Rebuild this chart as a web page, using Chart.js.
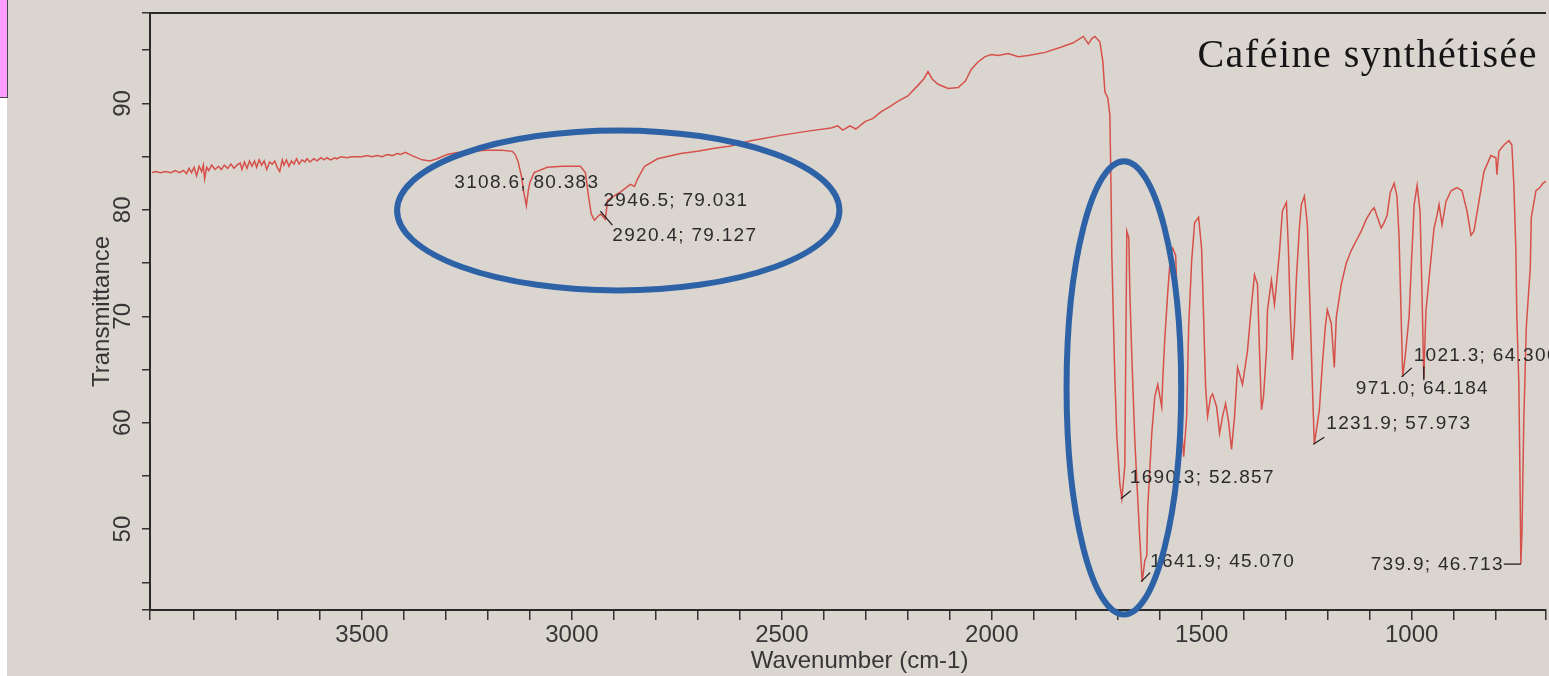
<!DOCTYPE html>
<html lang="fr">
<head>
<meta charset="utf-8">
<title>Caféine synthétisée - spectre IR</title>
<script src="https://cdn.jsdelivr.net/npm/chart.js@4.4.1/dist/chart.umd.min.js"></script>
<style>
  html, body { margin: 0; padding: 0; background: #dbd5d0; overflow: hidden; }
  #wrap { position: relative; width: 1549px; height: 676px; }
  #irChart { position: absolute; left: 0; top: 0; }
  .strip { position: absolute; left: 0; top: 0; width: 7px; height: 676px; background: #ffffff; }
  .tag { position: absolute; left: 0; top: 0; width: 7px; height: 97px; background: #ff9cff; border-right: 1px solid #444; border-bottom: 1px solid #444; }
</style>
</head>
<body>
<div id="wrap">
  <canvas id="irChart" width="1549" height="676"></canvas>
  <div class="strip"></div>
  <div class="tag"></div>
</div>
<script>
const wavenumbers = [
  4000, 3992, 3980, 3968, 3955, 3945, 3935, 3925, 3918, 3912,
  3906, 3900, 3894, 3888, 3882, 3878, 3875, 3870, 3865, 3858,
  3850, 3842, 3835, 3828, 3820, 3812, 3805, 3798, 3790, 3786,
  3780, 3774, 3768, 3762, 3756, 3751, 3745, 3739, 3733, 3727,
  3720, 3714, 3708, 3702, 3696, 3690, 3686, 3680, 3674, 3668,
  3662, 3656, 3650, 3643, 3636, 3631, 3624, 3615, 3607, 3598,
  3590, 3584, 3575, 3565, 3560, 3550, 3536, 3525, 3512, 3500,
  3488, 3476, 3464, 3452, 3440, 3428, 3416, 3408, 3397,
  3381, 3357, 3338, 3321, 3297, 3273, 3238, 3202, 3166, 3142, 3135, 3128,
  3120, 3114, 3108.6, 3104, 3100, 3090, 3059, 3023, 2980, 2968, 2961, 2954, 2946.5, 2938, 2931, 2920.4,
  2915, 2900, 2884, 2861, 2851, 2844, 2827, 2796, 2741, 2701, 2660, 2622, 2574, 2503, 2438, 2383,
  2367, 2355, 2338, 2324, 2302, 2283, 2264, 2243, 2224, 2200, 2176, 2162, 2152, 2142, 2128, 2104,
  2080, 2063, 2049, 2033, 2016, 2001, 1985, 1961, 1937, 1913, 1873, 1834, 1806, 1782, 1770, 1761.6,
  1754.5, 1742.6, 1735.4, 1730.7, 1723.6, 1718.8, 1716.4, 1714.1, 1711.7, 1707.0, 1702.2, 1695.1, 1690.3, 1683.2, 1680.8, 1678.4,
  1673.7, 1671.3, 1666.5, 1659.4, 1652.3, 1647.5, 1641.9, 1635.7, 1630.9, 1628.5, 1619.0, 1611.9, 1604.8, 1595.3, 1592.9, 1588.1,
  1581.0, 1573.9, 1569.1, 1562.0, 1557.2, 1550.1, 1543.0, 1535.9, 1531.1, 1524.0, 1516.9, 1507.4, 1500.3, 1495.5, 1490.8, 1486.0,
  1478.9, 1474.1, 1464.6, 1457.5, 1450.4, 1443.2, 1436.1, 1429.0, 1421.8, 1414.7, 1402.8, 1390.9, 1381.4, 1374.3, 1367.2, 1362.4,
  1357.7, 1352.9, 1345.8, 1343.4, 1333.9, 1326.8, 1322.0, 1314.9, 1307.8, 1298.3, 1293.6, 1288.8, 1284.1, 1279.3, 1274.5, 1267.4,
  1262.7, 1255.5, 1248.4, 1241.3, 1236.5, 1231.9, 1219.8, 1212.7, 1205.6, 1200.9, 1191.4, 1184.2, 1179.5, 1167.6, 1155.7, 1143.8,
  1132.0, 1120.1, 1108.2, 1096.3, 1089.2, 1079.7, 1072.6, 1065.5, 1058.4, 1051.2, 1041.7, 1035, 1030, 1026, 1021.3, 1016,
  1011, 1006, 1001, 994, 987, 980, 975.5, 971.0, 966, 953.7, 946.6, 939.5, 934.7, 927.6, 918.1, 906.2,
  892.0, 880.1, 868.2, 858.7, 851.6, 839.7, 827.8, 811.2, 799.3, 796.9, 792.2, 780.3, 768.4, 761.3, 756.5, 751.8,
  749.4, 744.6, 742, 739.9, 737, 733, 726.9, 717.4, 715.0, 703.9, 694.4, 687.3, 680
];
const transmittance = [
  83.5, 83.6, 83.5, 83.6, 83.5, 83.7, 83.5, 83.7, 83.4, 83.9,
  83.5, 84.0, 83.2, 84.1, 83.6, 84.2, 82.9, 84.0, 83.7, 84.2,
  83.8, 84.1, 83.8, 84.2, 83.9, 84.3, 83.9, 84.2, 84.4, 83.8,
  84.5, 83.9, 84.6, 84.1, 84.6, 84.0, 84.7, 84.2, 84.6, 83.8,
  84.5, 84.3, 84.6, 84.0, 83.6, 84.7, 84.2, 84.7, 84.1, 84.6,
  84.3, 84.8, 84.3, 84.7, 84.5, 84.8, 84.5, 84.8, 84.6, 84.9,
  84.7, 84.9, 84.7, 84.9, 84.8, 85.0, 84.9, 85.0, 85.0, 85.0,
  85.1, 85.0, 85.1, 85.0, 85.2, 85.1, 85.3, 85.2, 85.4,
  85.1, 84.7, 84.6, 84.8, 85.2, 85.4, 85.5, 85.6, 85.6, 85.5, 85.2, 84.5,
  83.1, 81.5, 80.383, 81.8, 82.6, 83.5, 84.0, 84.1, 84.1, 83.5, 81.4, 79.6, 79.031, 79.4, 79.6, 79.127,
  80.9, 81.3, 81.7, 82.4, 82.2, 82.9, 84.1, 84.8, 85.3, 85.5, 85.8, 86.0, 86.5, 87.0, 87.4, 87.7,
  87.9, 87.5, 87.9, 87.6, 88.3, 88.6, 89.2, 89.7, 90.2, 90.7, 91.7, 92.3, 93.0, 92.3, 91.8, 91.4,
  91.5, 92.1, 93.2, 93.9, 94.4, 94.6, 94.5, 94.7, 94.4, 94.5, 94.8, 95.3, 95.7, 96.3, 95.6, 96.1,
  96.3, 95.8, 93.9, 91.1, 90.5, 88.9, 83.0, 75.8, 71.8, 64.3, 58.7, 54.3, 52.857, 55.9, 67.1, 78.0,
  77.4, 72.4, 66.2, 58.4, 52.8, 49.1, 45.070, 47.0, 47.5, 52.1, 59.0, 62.4, 63.6, 61.5, 64.0, 67.8,
  72.2, 76.0, 76.4, 75.7, 69.9, 60.6, 56.8, 60.6, 69.0, 75.2, 78.8, 79.3, 76.4, 69.9, 63.4, 60.6,
  62.4, 62.7, 61.5, 59.0, 60.6, 61.8, 60.1, 57.5, 60.6, 65.2, 63.6, 66.8, 71.1, 73.9, 73.0, 66.8,
  61.2, 62.4, 66.8, 70.6, 73.4, 71.1, 73.0, 76.0, 79.9, 80.7, 76.4, 69.9, 65.9, 69.0, 73.6, 78.3,
  80.5, 81.3, 78.6, 69.9, 63.6, 57.973, 61.2, 65.5, 69.0, 70.6, 69.3, 65.2, 69.9, 73.0, 75.0, 76.2,
  77.1, 78.0, 79.1, 79.9, 80.2, 79.1, 78.3, 78.8, 79.5, 81.6, 82.5, 81.3, 77.5, 71.5, 64.306, 66.0,
  68.0, 70.0, 74.6, 80.5, 82.3, 79.9, 72.4, 64.184, 70.5, 75.5, 78.3, 79.5, 80.5, 78.6, 80.8, 81.8,
  82.1, 81.8, 79.9, 77.6, 78.0, 80.8, 83.6, 85.1, 84.9, 83.3, 85.5, 86.1, 86.5, 86.1, 82.3, 76.2,
  69.9, 63.6, 55.0, 46.713, 50.0, 60.0, 69.0, 74.6, 79.3, 81.8, 82.1, 82.5, 82.7
];

const xLabelTicks = [3500, 3000, 2500, 2000, 1500, 1000];
const yLabelTicks = [50, 60, 70, 80, 90];

// pics annotés sur l'impression
const peakWn = [3108.6, 2946.5, 2920.4, 1690.3, 1641.9, 1231.9, 1021.3, 971.0, 739.9];
const peakT = [80.383, 79.031, 79.127, 52.857, 45.070, 57.973, 64.306, 64.184, 46.713];

// placement des étiquettes autour de chaque pic (px)
const peakLabelPos = [
  { dx: -72, dy: -23, align: 'left' },
  { dx: 9, dy: -19, align: 'left' },
  { dx: 7, dy: 17, align: 'left', lead: [-5, -8, 7, 6] },
  { dx: 8, dy: -21, align: 'left', lead: [-1, 0, 9, -8] },
  { dx: 8, dy: -20, align: 'left', lead: [-1, 0, 8, -9] },
  { dx: 12, dy: -21, align: 'left', lead: [-1, 0, 10, -7] },
  { dx: 11, dy: -21, align: 'left', lead: [-1, 0, 9, -9] },
  { dx: -68, dy: 11, align: 'left', lead: [0, -12, 0, 2] },
  { dx: -17, dy: 1, align: 'right', lead: [-17, 0, 0, 0] }
];

// ellipses bleues tracées à la main sur la photo (centre et demi-axes en unités du graphe)
const circledZones = [
  { wn: 2889.7, t: 79.95, rWn: 526.8, rT: 7.52 },
  { wn: 1685.4, t: 63.27, rWn: 136.5, rT: 21.3 }
];

const axisFont = '24px "Liberation Sans", Arial, sans-serif';

const overlayPlugin = {
  id: 'overlay',
  beforeDraw(chart) {
    const c = chart.ctx;
    c.save();
    c.fillStyle = '#dbd5d0';
    c.fillRect(0, 0, chart.width, chart.height);
    c.restore();
  },
  afterDraw(chart) {
    const c = chart.ctx;
    const area = chart.chartArea;
    const xs = chart.scales.x;
    const ys = chart.scales.y;

    c.save();
    // cadre du haut
    c.strokeStyle = '#2a2a2a';
    c.lineWidth = 2;
    c.beginPath();
    c.moveTo(area.left, area.top);
    c.lineTo(area.right, area.top);
    c.stroke();

    // graduations de l'axe y, écrites verticalement
    c.fillStyle = '#363636';
    c.font = axisFont;
    c.textAlign = 'center';
    c.textBaseline = 'middle';
    yLabelTicks.forEach(v => {
      const py = ys.getPixelForValue(v);
      c.save();
      c.translate(area.left - 27, py);
      c.rotate(-Math.PI / 2);
      c.fillText(String(v), 0, 0);
      c.restore();
    });

    // titre de l'axe x (décalé comme sur l'impression)
    c.fillText('Wavenumber (cm-1)', xs.getPixelForValue(2315), chart.height - 15);

    // étiquettes des pics
    c.font = '19px "Liberation Sans", Arial, sans-serif';
    c.letterSpacing = '1.3px';
    c.fillStyle = '#2b2b2b';
    c.strokeStyle = '#1e1e1e';
    c.lineWidth = 1.3;
    peakWn.forEach((wn, i) => {
      const px = xs.getPixelForValue(wn);
      const py = ys.getPixelForValue(peakT[i]);
      const pos = peakLabelPos[i];
      const text = wn.toFixed(1) + '; ' + peakT[i].toFixed(3);
      c.textAlign = pos.align;
      c.fillText(text, px + pos.dx, py + pos.dy);
      if (pos.lead) {
        c.beginPath();
        c.moveTo(px + pos.lead[0], py + pos.lead[1]);
        c.lineTo(px + pos.lead[2], py + pos.lead[3]);
        c.stroke();
      }
    });

    // titre
    c.fillStyle = '#151515';
    c.font = '40px "Liberation Serif", "DejaVu Serif", serif';
    c.textAlign = 'right';
    c.textBaseline = 'alphabetic';
    c.letterSpacing = '1.5px';
    c.fillText('Caféine synthétisée', area.right - 8, 67);
    c.letterSpacing = '0px';

    // ellipses
    c.strokeStyle = '#2e62a6';
    c.lineWidth = 6;
    circledZones.forEach(z => {
      const cx = xs.getPixelForValue(z.wn);
      const cy = ys.getPixelForValue(z.t);
      const rx = Math.abs(xs.getPixelForValue(z.wn + z.rWn) - cx);
      const ry = Math.abs(ys.getPixelForValue(z.t + z.rT) - cy);
      c.beginPath();
      c.ellipse(cx, cy, rx, ry, 0, 0, Math.PI * 2);
      c.stroke();
    });
    c.restore();
  }
};

document.addEventListener('DOMContentLoaded', function () {
  const ctx = document.getElementById('irChart').getContext('2d');
  const points = wavenumbers.map((w, i) => ({ x: w, y: transmittance[i] }));

  new Chart(ctx, {
    type: 'line',
    data: {
      datasets: [{
        label: 'Caféine synthétisée',
        data: points,
        borderColor: '#d5514a',
        borderWidth: 1.5,
        pointRadius: 0,
        tension: 0
      }]
    },
    options: {
      responsive: false,
      animation: false,
      events: [],
      layout: { padding: { top: 13, right: 0, left: 90, bottom: 26 } },
      plugins: {
        legend: { display: false },
        tooltip: { enabled: false }
      },
      scales: {
        x: {
          type: 'linear',
          reverse: true,
          min: 680,
          max: 4005,
          ticks: {
            stepSize: 100,
            autoSkip: false,
            maxRotation: 0,
            padding: 3,
            color: '#363636',
            font: { family: '"Liberation Sans", Arial, sans-serif', size: 24, lineHeight: 1 },
            callback: v => (xLabelTicks.includes(v) ? String(v) : '')
          },
          grid: { drawOnChartArea: false, drawTicks: true, tickLength: 10, color: '#333', lineWidth: 1.5 },
          border: { color: '#2a2a2a', width: 2 }
        },
        y: {
          min: 42.4,
          max: 98.5,
          ticks: { stepSize: 5, display: false },
          grid: { drawOnChartArea: false, drawTicks: true, tickLength: 8, color: '#333', lineWidth: 1.5 },
          border: { color: '#2a2a2a', width: 2 },
          title: {
            display: true,
            text: 'Transmittance',
            color: '#363636',
            font: { family: '"Liberation Sans", Arial, sans-serif', size: 24, lineHeight: 1 },
            padding: { top: 0, bottom: 28 }
          }
        }
      }
    },
    plugins: [overlayPlugin]
  });
});
</script>
</body>
</html>
